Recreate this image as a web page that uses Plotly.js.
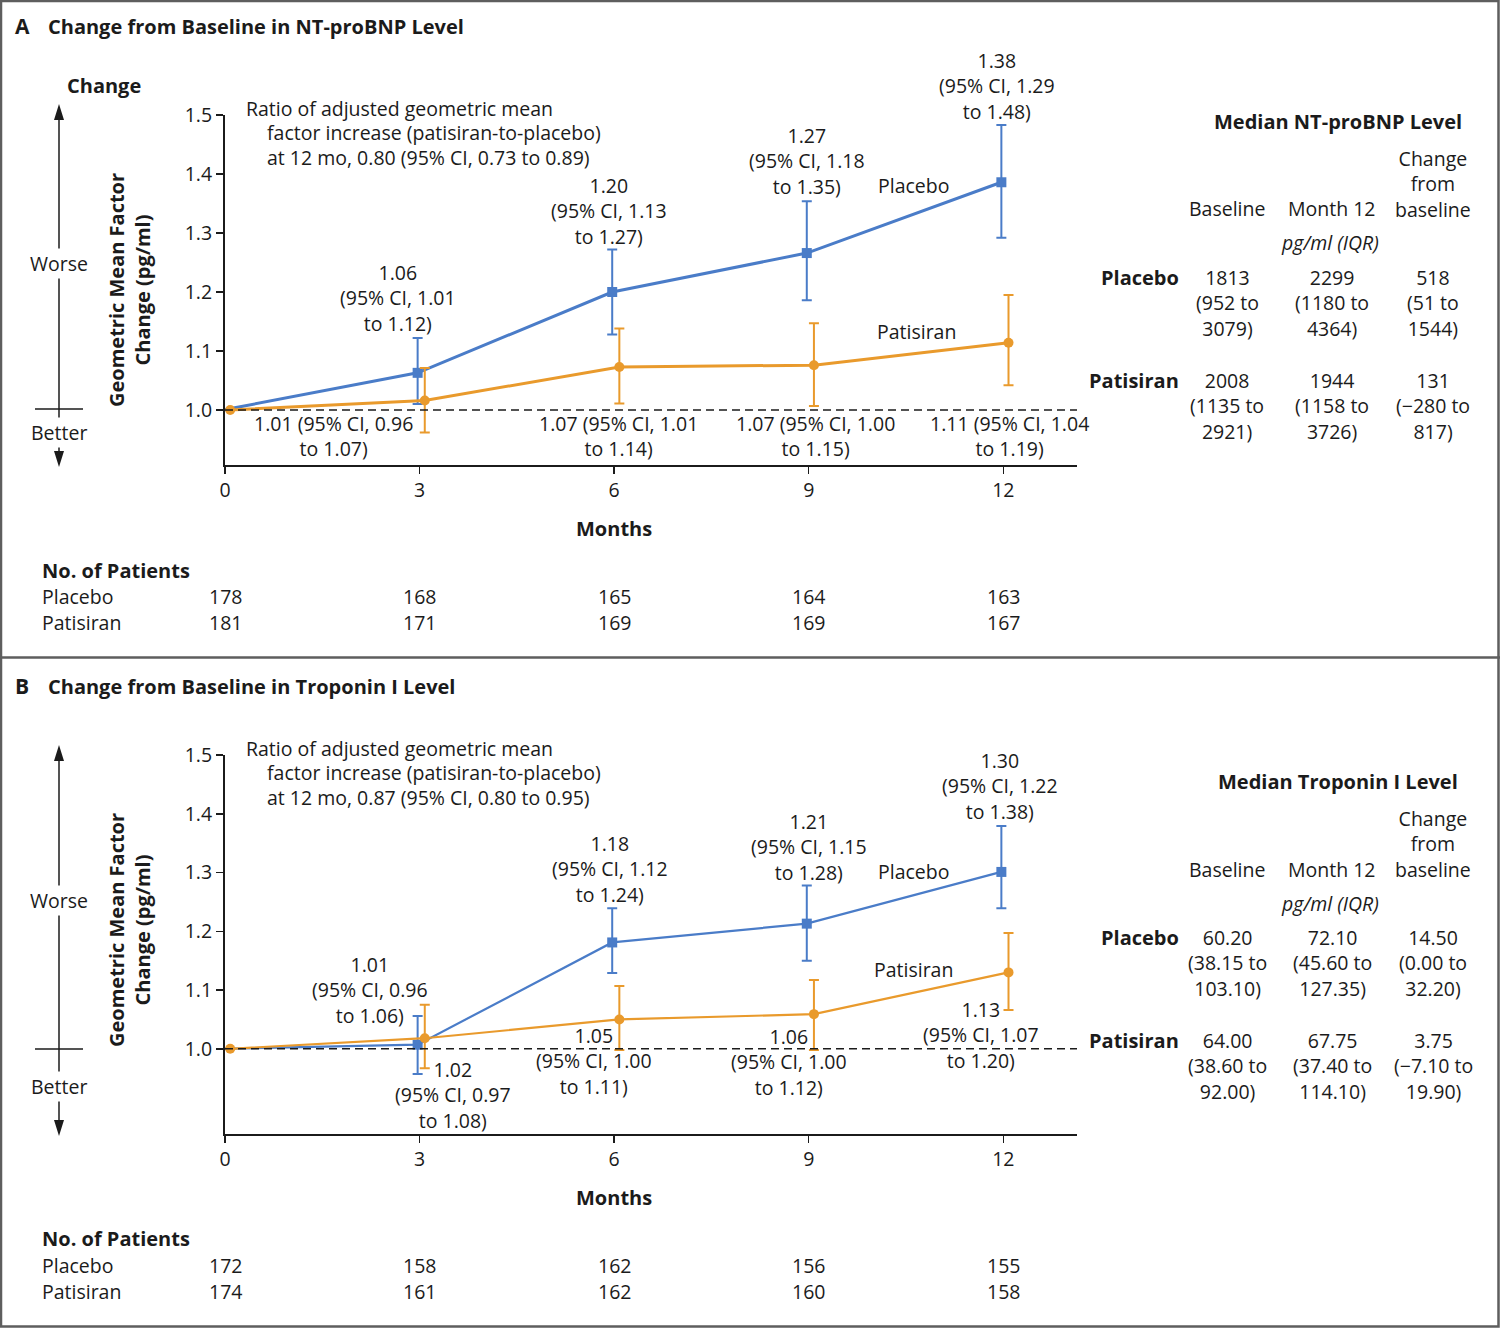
<!DOCTYPE html>
<html>
<head>
<meta charset="utf-8">
<script src="https://cdn.plot.ly/plotly-3.0.1.min.js"></script>
<style>
  body { margin: 0; background: #fff; }
  #chart { width: 1500px; height: 1328px; }
</style>
</head>
<body>
<div id="chart"></div>
<script>
// months of follow-up
var months = [0, 3, 6, 9, 12]

// Panel A: NT-proBNP geometric mean factor change
var ntPlacebo = [1.00, 1.063, 1.20, 1.266, 1.386]
var ntPlaceboLo = [null, 1.01, 1.128, 1.186, 1.292]
var ntPlaceboHi = [null, 1.122, 1.272, 1.354, 1.483]
var ntPatisiran = [1.00, 1.016, 1.073, 1.076, 1.114]
var ntPatisiranLo = [null, 0.962, 1.011, 1.007, 1.042]
var ntPatisiranHi = [null, 1.071, 1.138, 1.147, 1.195]
var ntPlaceboLabels = [null, ['1.06', '1.01', '1.12'], ['1.20', '1.13', '1.27'], ['1.27', '1.18', '1.35'], ['1.38', '1.29', '1.48']]
var ntPatisiranLabels = [null, ['1.01', '0.96', '1.07'], ['1.07', '1.01', '1.14'], ['1.07', '1.00', '1.15'], ['1.11', '1.04', '1.19']]
var ntRatio = ['0.80', '0.73', '0.89']
var ntNPlacebo = [178, 168, 165, 164, 163]
var ntNPatisiran = [181, 171, 169, 169, 167]
// median (IQR): baseline, month 12, change
var ntTablePlacebo = [['1813', '952', '3079'], ['2299', '1180', '4364'], ['518', '51', '1544']]
var ntTablePatisiran = [['2008', '1135', '2921'], ['1944', '1158', '3726'], ['131', '\u2212280', '817']]

// Panel B: troponin I
var tnPlacebo = [1.00, 1.007, 1.181, 1.213, 1.301]
var tnPlaceboLo = [null, 0.957, 1.129, 1.150, 1.239]
var tnPlaceboHi = [null, 1.056, 1.239, 1.278, 1.379]
var tnPatisiran = [1.00, 1.018, 1.050, 1.059, 1.130]
var tnPatisiranLo = [null, 0.967, 0.998, 0.998, 1.066]
var tnPatisiranHi = [null, 1.075, 1.107, 1.117, 1.197]
var tnPlaceboLabels = [null, ['1.01', '0.96', '1.06'], ['1.18', '1.12', '1.24'], ['1.21', '1.15', '1.28'], ['1.30', '1.22', '1.38']]
var tnPatisiranLabels = [null, ['1.02', '0.97', '1.08'], ['1.05', '1.00', '1.11'], ['1.06', '1.00', '1.12'], ['1.13', '1.07', '1.20']]
var tnRatio = ['0.87', '0.80', '0.95']
var tnNPlacebo = [172, 158, 162, 156, 155]
var tnNPatisiran = [174, 161, 162, 160, 158]
var tnTablePlacebo = [['60.20', '38.15', '103.10'], ['72.10', '45.60', '127.35'], ['14.50', '0.00', '32.20']]
var tnTablePatisiran = [['64.00', '38.60', '92.00'], ['67.75', '37.40', '114.10'], ['3.75', '\u22127.10', '19.90']]

var yTicks = [1.0, 1.1, 1.2, 1.3, 1.4, 1.5]

var W = 1500, H = 1328
var BLUE = '#4a7cc8'
var ORANGE = '#e99a2c'
var FONT = '"Open Sans", Lato, sans-serif'
var FS = 19.5
var BS = 20
var TXT = '#1b1b1b'

function px(x) { return x / W }
function py(y) { return 1 - y / H }

function errArrays(v, lo, hi) {
  return {
    plus: v.map(function (d, i) { return hi[i] == null ? null : hi[i] - d }),
    minus: v.map(function (d, i) { return lo[i] == null ? null : d - lo[i] })
  }
}

function series(v, lo, hi, shift, color, symbol, lw, xa, ya) {
  var e = errArrays(v, lo, hi)
  return {
    x: months.map(function (m) { return m + shift }),
    y: v,
    xaxis: xa,
    yaxis: ya,
    type: 'scatter',
    mode: 'lines+markers',
    cliponaxis: false,
    line: { color: color, width: lw },
    marker: { color: color, symbol: symbol, size: 10 },
    error_y: {
      type: 'data', symmetric: false, array: e.plus, arrayminus: e.minus,
      color: color, thickness: 2, width: 5
    }
  }
}

var data = [
  series(ntPlacebo, ntPlaceboLo, ntPlaceboHi, -0.03, BLUE, 'square', 3, 'x', 'y'),
  series(ntPatisiran, ntPatisiranLo, ntPatisiranHi, 0.08, ORANGE, 'circle', 3, 'x', 'y'),
  series(tnPlacebo, tnPlaceboLo, tnPlaceboHi, -0.03, BLUE, 'square', 2.2, 'x2', 'y2'),
  series(tnPatisiran, tnPatisiranLo, tnPatisiranHi, 0.08, ORANGE, 'circle', 2.2, 'x2', 'y2')
]

var annotations = []
function txt(text, x, y, o) {
  o = o || {}
  annotations.push({
    text: text, xref: 'paper', yref: 'paper', x: px(x), y: py(y),
    xanchor: o.xanchor || 'center', yanchor: 'middle', align: o.align || 'center',
    showarrow: false, textangle: o.angle || 0, bgcolor: o.bg,
    font: { family: FONT, size: o.size || FS, color: TXT }
  })
}
function b(s) { return '<b>' + s + '</b>' }
function three(s) { return s[0] + '<br>(95% CI, ' + s[1] + '<br>to ' + s[2] + ')' }
function two(s) { return s[0] + ' (95% CI, ' + s[1] + '<br>to ' + s[2] + ')' }
function iqr(s) { return s[0] + '<br>(' + s[1] + ' to<br>' + s[2] + ')' }

var shapes = []
function seg(x0, y0, x1, y1, w, color, dash) {
  shapes.push({ type: 'line', xref: 'paper', yref: 'paper', x0: px(x0), y0: py(y0), x1: px(x1), y1: py(y1),
    line: { color: color || TXT, width: w || 1.5, dash: dash || 'solid' } })
}
function tri(x, tip, base) {
  shapes.push({ type: 'path', xref: 'paper', yref: 'paper', fillcolor: TXT, line: { width: 0 },
    path: 'M' + px(x) + ',' + py(tip) + ' L' + px(x - 5) + ',' + py(base) + ' L' + px(x + 5) + ',' + py(base) + ' Z' })
}

// frame and separator
shapes.push({ type: 'rect', xref: 'paper', yref: 'paper', x0: px(1), y0: py(1), x1: px(1498.5), y1: py(1326.5),
  line: { color: '#5e5e5e', width: 2.5 } })
seg(0, 657.5, 1500, 657.5, 2.5, '#5e5e5e')

// dashed reference line at 1.0
shapes.push({ type: 'line', xref: 'x domain', yref: 'y', x0: 0, x1: 1, y0: 1, y1: 1, line: { color: TXT, width: 1.5, dash: '8px,5px' } })
shapes.push({ type: 'line', xref: 'x2 domain', yref: 'y2', x0: 0, x1: 1, y0: 1, y1: 1, line: { color: TXT, width: 1.5, dash: '8px,5px' } })

function panel(p) {
  var d = p.dy, dt = p.dt
  txt(b(p.letter), 13, 26 + dt, { xanchor: 'left', size: 21 })
  txt(b(p.title), 46, 26 + dt, { xanchor: 'left', size: BS })
  if (p.change) txt(b('Change'), 104, 85, { size: BS })

  // better/worse arrow
  seg(59, p.arrTop + 14, 59, p.arrBot - 14, 1.5)
  tri(59, p.arrTop, p.arrTop + 16)
  tri(59, p.arrBot, p.arrBot - 16)
  seg(35, p.cross, 83, p.cross, 1.5)
  txt('Worse', 59, p.worse, { bg: 'white' })
  txt('Better', 59, p.better, { bg: 'white' })

  txt(b('Geometric Mean Factor<br>Change (pg/ml)'), 129, 290 + d, { angle: -90, size: BS })
  txt(b('Months'), 614, 528 + p.dm, { size: BS })

  txt('Ratio of adjusted geometric mean', 244, 108 + d, { xanchor: 'left' })
  txt('factor increase (patisiran-to-placebo)<br>at 12 mo, ' + p.ratio[0] + ' (95% CI, ' + p.ratio[1] + ' to ' + p.ratio[2] + ')',
    265, 145 + d, { xanchor: 'left', align: 'left' })

  p.plLab.forEach(function (s, i) { if (s) txt(three(s), p.plPos[i][0], p.plPos[i][1]) })
  p.paLab.forEach(function (s, i) { if (s) txt(p.paFmt(s), p.paPos[i][0], p.paPos[i][1]) })
  txt('Placebo', 913, p.plName)
  txt('Patisiran', p.paNameX, p.paName)

  // median table
  txt(b(p.tableTitle), 1338, 121 + dt, { size: BS })
  txt('Change<br>from<br>baseline', 1433, 184 + dt)
  txt('Baseline', 1227, 209 + dt)
  txt('Month 12', 1332, 209 + dt)
  txt('<i>pg/ml (IQR)</i>', 1330, 243 + dt)
  txt(b('Placebo'), 1181, 277 + dt, { xanchor: 'right', size: BS })
  txt(b('Patisiran'), 1181, 380 + dt, { xanchor: 'right', size: BS })
  var cols = [1227, 1332, 1433]
  p.tPl.forEach(function (s, i) { txt(iqr(s), cols[i], 303 + dt) })
  p.tPa.forEach(function (s, i) { txt(iqr(s), cols[i], 406 + dt) })

  // number at risk
  txt(b('No. of Patients'), 40, 570 + p.dn, { xanchor: 'left', size: BS })
  txt('Placebo', 40, 597 + p.dn, { xanchor: 'left' })
  txt('Patisiran', 40, 623 + p.dn, { xanchor: 'left' })
  months.forEach(function (m, i) {
    annotations.push({ text: String(p.nPl[i]), xref: p.xa, yref: 'paper', x: m, y: py(597 + p.dn),
      xanchor: 'center', yanchor: 'middle', showarrow: false, font: { family: FONT, size: FS, color: TXT } })
    annotations.push({ text: String(p.nPa[i]), xref: p.xa, yref: 'paper', x: m, y: py(623 + p.dn),
      xanchor: 'center', yanchor: 'middle', showarrow: false, font: { family: FONT, size: FS, color: TXT } })
  })
}

panel({
  letter: 'A', title: 'Change from Baseline in NT-proBNP Level', dy: 0, dt: 0, dm: 0, dn: 0, change: true,
  arrTop: 104, arrBot: 467, cross: 409, worse: 263, better: 432,
  ratio: ntRatio,
  plLab: ntPlaceboLabels, plPos: [null, [398, 298], [609, 211], [807, 161], [997, 86]],
  paLab: ntPatisiranLabels, paFmt: two, paPos: [null, [333, 436], [618, 436], [815, 436], [1009, 436]],
  plName: 186, paName: 331, paNameX: 917,
  tableTitle: 'Median NT-proBNP Level', tPl: ntTablePlacebo, tPa: ntTablePatisiran,
  nPl: ntNPlacebo, nPa: ntNPatisiran, xa: 'x'
})

panel({
  letter: 'B', title: 'Change from Baseline in Troponin I Level', dy: 640, dt: 660, dm: 669, dn: 668, change: false,
  arrTop: 745, arrBot: 1136, cross: 1049, worse: 900, better: 1086,
  ratio: tnRatio,
  plLab: tnPlaceboLabels, plPos: [null, [370, 990], [610, 869], [809, 847], [1000, 786]],
  paLab: tnPatisiranLabels, paFmt: three, paPos: [null, [453, 1095], [594, 1061], [789, 1062], [981, 1035]],
  plName: 872, paName: 969, paNameX: 913,
  tableTitle: 'Median Troponin I Level', tPl: tnTablePlacebo, tPa: tnTablePatisiran,
  nPl: tnNPlacebo, nPa: tnNPatisiran, xa: 'x2'
})

function xAxis(anchor) {
  return {
    domain: [px(225), px(1077)], range: [0, 13.136], anchor: anchor,
    tickvals: months, ticks: 'outside', ticklen: 7, tickwidth: 1.5, tickcolor: TXT,
    showline: true, linewidth: 2, linecolor: TXT, showgrid: false, zeroline: false,
    tickfont: { family: FONT, size: FS, color: TXT }, fixedrange: true
  }
}
function yAxis(anchor, top, bottom, lo) {
  return {
    domain: [py(bottom), py(top)], range: [lo, 1.5], anchor: anchor,
    tickvals: yTicks, ticktext: yTicks.map(function (t) { return t.toFixed(1) }),
    ticks: 'outside', ticklen: 7, tickwidth: 1.5, tickcolor: TXT,
    showline: true, linewidth: 2, linecolor: TXT, showgrid: false, zeroline: false,
    tickfont: { family: FONT, size: FS, color: TXT }, fixedrange: true
  }
}

var layout = {
  width: W, height: H,
  margin: { l: 0, r: 0, t: 0, b: 0 },
  paper_bgcolor: 'white', plot_bgcolor: 'white',
  showlegend: false, hovermode: false,
  font: { family: FONT, color: TXT },
  xaxis: xAxis('y'),
  yaxis: yAxis('x', 115, 465, 0.9068),
  xaxis2: xAxis('y2'),
  yaxis2: yAxis('x2', 755, 1134, 0.855),
  shapes: shapes,
  annotations: annotations
}

Plotly.newPlot('chart', data, layout, { staticPlot: true })
</script>
</body>
</html>
